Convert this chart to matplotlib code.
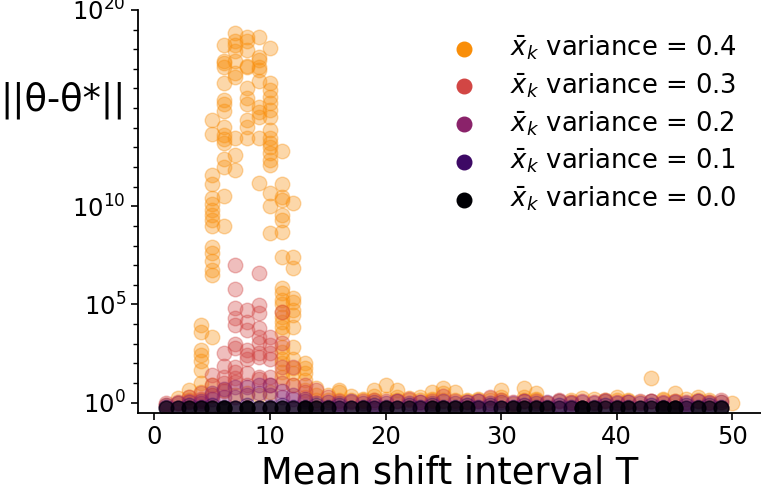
import numpy as np
import matplotlib
matplotlib.use("Agg")
import matplotlib.pyplot as plt
from matplotlib.ticker import FixedLocator, LogFormatterMathtext, NullFormatter

# log10 of ||theta - theta*|| per mean shift interval T (one inner list per T)
T_04 = list(range(1, 51))
exp_04 = [
    [-0.1], [0.0, 0.25], [0.15, 0.3, 0.65],
    [0.15, 0.55, 1.0, 1.67, 2.1, 2.45, 2.7, 3.6, 3.96],
    [0.4, 0.9, 3.35, 6.5, 6.75, 7.2, 7.6, 7.9, 9.0, 9.3, 9.55, 9.8, 10.1, 10.4, 11.15, 11.6, 13.7, 14.4],
    [0.65, 9.0, 10.5, 12.0, 12.4, 13.2, 13.4, 13.65, 14.05, 14.85, 15.2, 15.4, 16.3, 17.1, 17.3, 17.4, 18.2],
    [0.4, 11.85, 12.6, 13.5, 16.6, 16.8, 17.4, 17.9, 18.2, 18.4, 18.8],
    [0.5, 13.5, 14.05, 14.4, 15.2, 15.5, 16.0, 17.1, 17.15, 17.95, 18.4, 18.6],
    [0.4, 11.2, 13.5, 14.55, 14.8, 15.05, 16.4, 16.95, 17.1, 17.45, 17.6, 18.6],
    [0.55, 8.65, 10.0, 10.7, 12.1, 12.35, 12.7, 13.0, 13.2, 13.5, 13.9, 14.55, 14.9, 15.25, 15.55, 15.9, 16.3, 18.05],
    [1.3, 1.55, 2.0, 2.2, 2.6, 2.85, 3.55, 3.85, 4.1, 4.35, 4.6, 5.0, 5.25, 5.6, 5.85, 7.4, 8.7, 9.3, 9.55, 10.3, 10.45, 11.15, 12.8],
    [0.9, 1.5, 1.75, 2.2, 2.85, 3.85, 4.45, 4.7, 5.1, 5.35, 6.85, 7.4, 10.15],
    [0.3, 0.65, 1.15, 1.5, 1.75, 2.0],
    [0.15, 0.4, 0.75], [0.15, 0.4], [0.15, 0.55, 0.65], [0.15, 0.35], [0.15, 0.2],
    [0.15, 0.35, 0.65], [0.2, 0.9], [0.15, 0.3, 0.65], [0.15, 0.25], [0.15, 0.3],
    [0.15, 0.2, 0.55], [0.15, 0.5, 0.75], [0.15, 0.55], [0.1, 0.15], [0.15, 0.2],
    [0.15, 0.25], [0.15, 0.3, 0.65], [-0.05], [0.15, 0.3, 0.75], [0.15, 0.2, 0.5],
    [0.0], [0.1], [0.05, 0.15], [0.25], [0.2], [0.1, 0.15], [0.15, 0.3], [0.1, 0.15],
    [0.05], [0.1, 1.25], [0.15, 0.2], [0.1, 0.5], [0.2], [0.15, 0.3], [0.05, 0.15],
    [0.05], [0.0],
]

T_03 = list(range(1, 50))
exp_03 = [
    [0.0], [0.05], [0.1, 0.3], [0.2, 0.5], [0.4, 0.9, 1.4],
    [0.6, 1.0, 1.3, 1.85, 2.55],
    [1.05, 1.25, 1.55, 1.8, 2.8, 3.0, 3.95, 4.3, 4.8, 5.8, 7.0],
    [0.9, 1.5, 2.2, 2.45, 2.7, 3.7, 4.1, 4.7],
    [1.2, 1.3, 2.3, 2.55, 3.05, 3.35, 3.8, 4.55, 4.95, 6.6],
    [0.9, 1.3, 2.2, 2.55, 2.95, 3.35],
    [1.0, 1.8, 3.05, 4.6], [0.9, 1.8], [0.55, 0.9], [0.65], [0.3],
    [0.1], [0.05], [0.1], [0.15], [0.1], [0.1], [0.2], [0.05], [0.1], [0.35],
    [0.1], [0.05], [0.1], [0.3], [0.15], [0.05], [0.1], [0.1], [0.0], [0.15],
    [0.05], [0.1], [0.05], [0.15], [0.05], [0.05], [0.1], [0.1], [0.05], [0.1],
    [0.05], [0.1], [0.05], [0.15],
]

T_02 = list(range(1, 50))
exp_02 = [
    [-0.1], [0.0], [0.05], [0.0, 0.1], [0.2, 0.5], [0.3, 0.7], [0.3, 0.8],
    [0.4, 0.8], [0.5, 0.9], [0.4, 0.9], [0.3, 0.6], [0.2, 0.4], [0.1, 0.2],
    [0.0], [0.05], [-0.27, 0.0], [0.1], [0.0], [-0.27, 0.05], [0.0], [0.1],
    [0.0], [-0.27, 0.05], [0.0], [0.1], [0.0], [0.05], [-0.27, 0.1], [-0.27, 0.0],
    [0.05], [0.0], [0.1], [0.0], [0.05], [-0.27, 0.1], [-0.27, 0.0], [0.05],
    [0.0], [0.1], [0.0], [0.05], [0.0], [0.1], [0.0], [0.05], [-0.27, 0.0],
    [0.1], [0.0], [0.05],
]

T_01 = list(range(1, 50))
exp_01 = [
    [-0.27, -0.2], [-0.27, -0.27], [-0.27, -0.1], [-0.27, -0.2], [-0.27, -0.1],
    [-0.27, -0.2], [-0.27, -0.27], [-0.27, -0.1], [-0.27, -0.27], [-0.27, -0.2],
    [-0.27, -0.1], [-0.27, -0.2], [-0.27, -0.2], [-0.27, -0.1], [-0.27, -0.2],
    [-0.27, -0.1], [-0.27, -0.27], [-0.27, -0.2], [-0.27, -0.1], [-0.27, -0.2],
    [-0.27, -0.27], [-0.27, -0.1], [-0.27, -0.2], [-0.27, -0.1], [-0.27, -0.2],
    [-0.27, -0.2], [-0.27, -0.1], [-0.27, -0.2], [-0.27, -0.1], [-0.27, -0.27],
    [-0.27, -0.2], [-0.27, -0.1], [-0.27, -0.2], [-0.27, -0.2], [-0.27, -0.1],
    [-0.27, -0.2], [-0.27, -0.27], [-0.27, -0.2], [-0.27, -0.1], [-0.27, -0.2],
    [-0.27, -0.2], [-0.27, -0.27], [-0.27, -0.1], [-0.27, -0.2], [-0.27, -0.27],
    [-0.27, -0.1], [-0.27, -0.2], [-0.27, -0.1], [-0.27, -0.2],
]

# variance 0.0 stays at the floor; runs landing on it per T
T_00 = list(range(1, 50))
floor_00 = -0.27
runs_00 = [2, 2, 3, 3, 3, 5, 2, 5, 2, 3, 3, 2, 5, 3, 3, 1, 2, 3, 1, 3, 2, 2, 1, 3, 3,
           3, 3, 1, 1, 2, 3, 3, 3, 3, 1, 1, 5, 3, 2, 3, 3, 2, 2, 5, 5, 1, 3, 2, 3]

variances = [0.4, 0.3, 0.2, 0.1, 0.0]
cmap_pos = [0.75, 0.5625, 0.375, 0.1875, 0.0]


def flatten(ts, exps):
    xs, ys = [], []
    for t, ex in zip(ts, exps):
        for e in ex:
            xs.append(t)
            ys.append(10 ** e)
    return xs, ys


series = [
    flatten(T_04, exp_04),
    flatten(T_03, exp_03),
    flatten(T_02, exp_02),
    flatten(T_01, exp_01),
    flatten(T_00, [[floor_00] * n for n in runs_00]),
]

fig = plt.figure(figsize=(7.61, 4.95), dpi=100)
ax = fig.add_axes([0.181, 0.166, 0.8185, 0.814])

cmap = plt.get_cmap("inferno")
for (xs, ys), var, p in zip(series, variances, cmap_pos):
    ax.scatter(xs, ys, s=110, color=cmap(p), alpha=0.35,
               label=r"$\bar{x}_k$ variance = " + f"{var:.1f}")

ax.set_yscale("log")
ax.set_ylim(10 ** -0.52, 1e20)
ax.yaxis.set_major_locator(FixedLocator([1e0, 1e5, 1e10, 1e20]))
ax.yaxis.set_major_formatter(LogFormatterMathtext())
ax.yaxis.set_minor_locator(FixedLocator([10.0 ** k for k in range(1, 20) if k not in (5, 10)]))
ax.yaxis.set_minor_formatter(NullFormatter())
ax.set_xticks([0, 10, 20, 30, 40, 50])

ax.spines["top"].set_visible(False)
ax.spines["right"].set_visible(False)
ax.spines["left"].set_linewidth(1.3)
ax.spines["bottom"].set_linewidth(1.3)
ax.tick_params(which="major", labelsize=17.5, length=5, width=1.2)
ax.tick_params(which="minor", length=3.5, width=1.0)

ax.set_xlabel("Mean shift interval T", fontsize=26.5)
ax.set_ylabel("||θ-θ*||", fontsize=26.5, rotation=0, ha="right", va="center")
ax.yaxis.set_label_coords(-0.02, 0.777)

leg = ax.legend(loc="upper right", frameon=False, fontsize=18.6, labelspacing=0.35)
for h in leg.legend_handles:
    h.set_alpha(1)

fig.savefig("out.png", dpi=100)
